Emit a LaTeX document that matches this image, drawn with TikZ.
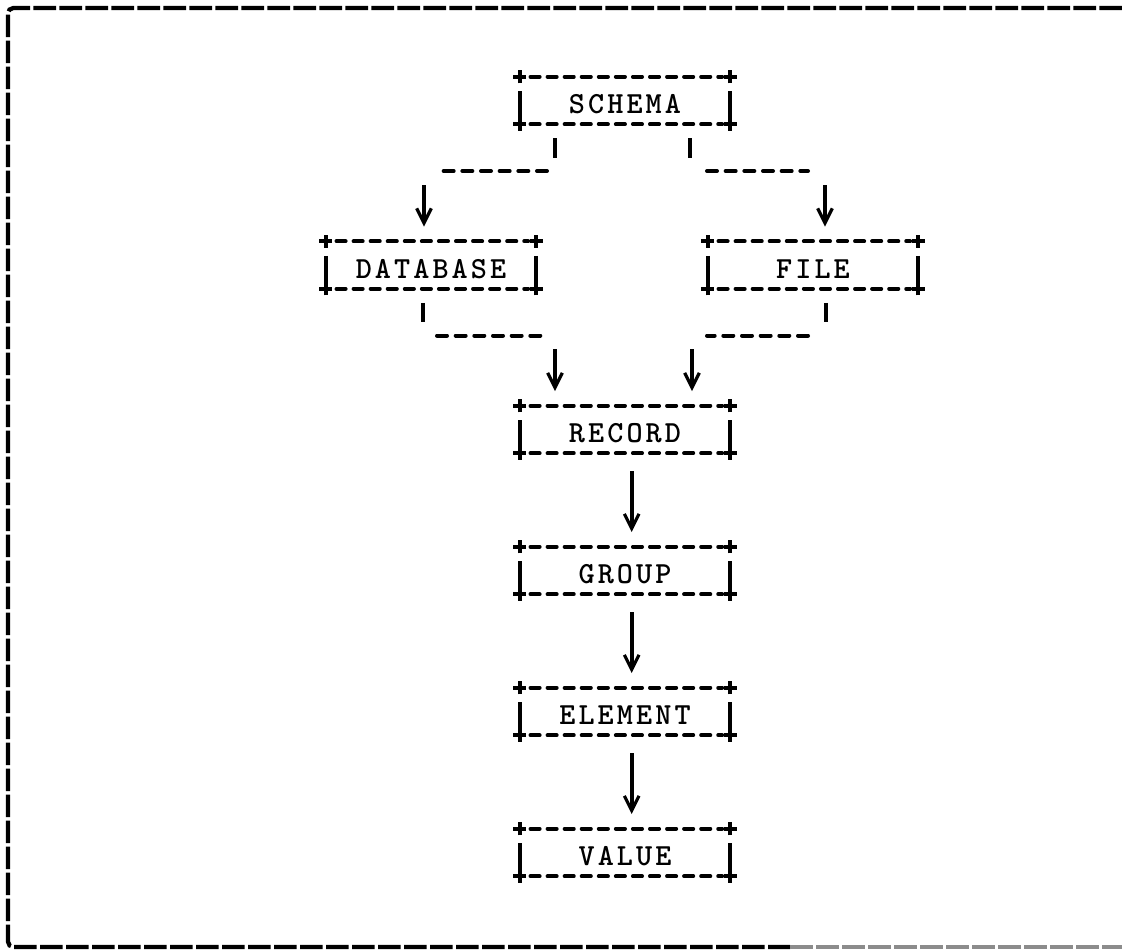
\documentclass[tikz,border=0pt]{standalone}
\usepackage{fontspec}
\usetikzlibrary{arrows.meta}
\ExplSyntaxOn
\NewDocumentCommand\spacedword{m}{\tl_map_inline:nn{#1}{\makebox[14.4pt][c]{##1}}}
\ExplSyntaxOff
\newcommand\asciitext{\fontsize{23}{25}\ttfamily\bfseries}
\tikzset{
  asciibox/.style={minimum width=157.5pt, minimum height=35.25pt, inner sep=0pt,
    font=\asciitext, text height=19.6pt, text depth=0pt},
  boxdash/.style={line width=2.8pt, line cap=round, dash pattern=on 7pt off 5.8pt},
  boxbar/.style={line width=3pt},
  plusmark/.style={line width=2.8pt},
  hdash/.style={line width=3pt, line cap=round, dash pattern=on 7.5pt off 6.5pt},
  bar/.style={line width=3pt},
  varrow/.style={line width=3pt, shorten >=11pt,
    -{Straight Barb[length=11pt,width=11pt,line width=2.4pt]}},
  framel/.style={line width=3.2pt, dash pattern=on 17pt off 2.5pt},
}
\newcommand\asciiframe[1]{%
  \draw[boxdash] ([xshift=8pt]#1.north west) -- ([xshift=-6pt]#1.north east);
  \draw[boxdash] ([xshift=8pt]#1.south west) -- ([xshift=-6pt]#1.south east);
  \draw[boxbar] ([yshift=-11pt]#1.north west) -- (#1.south west);
  \draw[boxbar] ([yshift=-11pt]#1.north east) -- (#1.south east);
  \foreach \cn in {north west,north east,south west,south east}{
    \draw[plusmark] ([xshift=-5pt]#1.\cn) -- ([xshift=5pt]#1.\cn);
    \draw[plusmark] ([yshift=-5pt]#1.\cn) -- ([yshift=5pt]#1.\cn);
  }}
\begin{document}
\begin{tikzpicture}[x=0.75pt,y=-0.75pt]
\useasboundingbox (0,0) rectangle (1122,951);
% outer frame (open on the right)
\draw[framel, rounded corners=4pt] (1122,8) -- (8,8) -- (8,947) -- (790,947);
\draw[framel, black!45] (790,947) -- (1122,947);

% boxes
\node[asciibox] (SCHEMA)   at (625,100.5) {\spacedword{SCHEMA}};
\node[asciibox] (DATABASE) at (431,265)   {\spacedword{DATABASE}};
\node[asciibox] (FILE)     at (813,265)   {\spacedword{FILE}};
\node[asciibox] (RECORD)   at (625,429.5) {\spacedword{RECORD}};
\node[asciibox] (GROUP)    at (625,570.5) {\spacedword{GROUP}};
\node[asciibox] (ELEMENT)  at (625,711.5) {\spacedword{ELEMENT}};
\node[asciibox] (VALUE)    at (625,852.5) {\spacedword{VALUE}};
\foreach \nm in {SCHEMA,DATABASE,FILE,RECORD,GROUP,ELEMENT,VALUE}{\asciiframe{\nm}}

% SCHEMA -> DATABASE
\coordinate (sL) at (555,158);
\draw[bar, shorten <=10.5pt] (SCHEMA.south -| sL) -- (sL);
\coordinate (hL1) at (547,171); \coordinate (hL2) at (439,171);
\draw[hdash] (hL1) -- (hL2);
\coordinate (aL) at (424,185);
\draw[varrow] (aL) -- (DATABASE.north -| aL);

% SCHEMA -> FILE
\coordinate (sR) at (690,158);
\draw[bar, shorten <=10.5pt] (SCHEMA.south -| sR) -- (sR);
\coordinate (hR1) at (707,171); \coordinate (hR2) at (808,171);
\draw[hdash] (hR1) -- (hR2);
\coordinate (aR) at (825,185);
\draw[varrow] (aR) -- (FILE.north -| aR);

% DATABASE -> RECORD
\coordinate (dS) at (423,322);
\draw[bar, shorten <=10.5pt] (DATABASE.south -| dS) -- (dS);
\coordinate (hD1) at (437,335.5); \coordinate (hD2) at (545,335.5);
\draw[hdash] (hD1) -- (hD2);
\coordinate (aD) at (555,349);
\draw[varrow] (aD) -- (RECORD.north -| aD);

% FILE -> RECORD
\coordinate (fS) at (826,322);
\draw[bar, shorten <=10.5pt] (FILE.south -| fS) -- (fS);
\coordinate (hF1) at (808,335.5); \coordinate (hF2) at (707,335.5);
\draw[hdash] (hF1) -- (hF2);
\coordinate (aF) at (692,349);
\draw[varrow] (aF) -- (RECORD.north -| aF);

% chain
\draw[varrow, shorten <=13.5pt] ([xshift=5pt]RECORD.south) -- ([xshift=5pt]GROUP.north);
\draw[varrow, shorten <=13.5pt] ([xshift=5pt]GROUP.south) -- ([xshift=5pt]ELEMENT.north);
\draw[varrow, shorten <=13.5pt] ([xshift=5pt]ELEMENT.south) -- ([xshift=5pt]VALUE.north);
\end{tikzpicture}
\end{document}
